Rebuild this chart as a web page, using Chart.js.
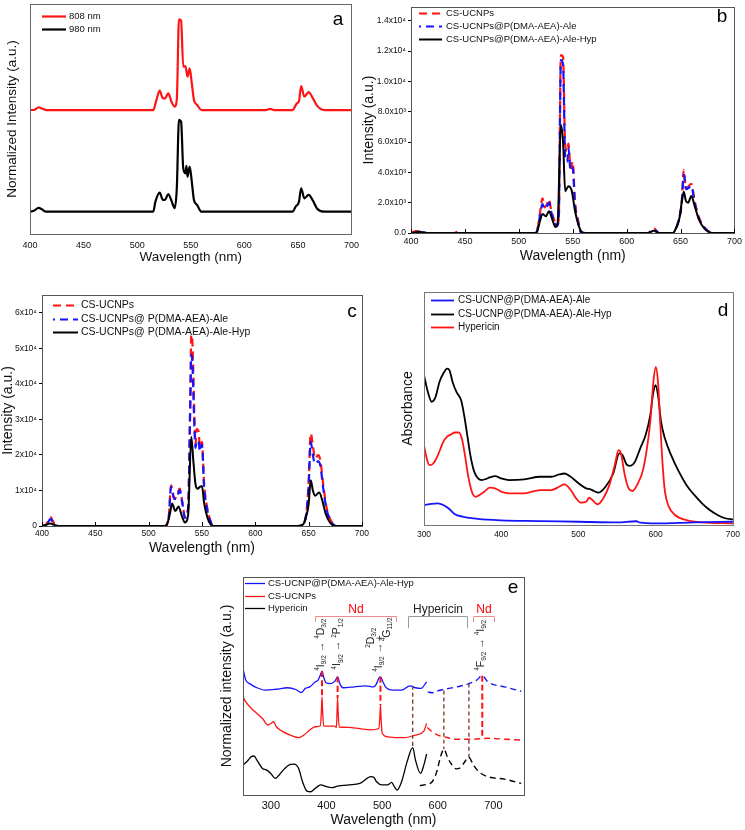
<!DOCTYPE html>
<html>
<head>
<meta charset="utf-8">
<title>UCNP spectra</title>
<script src="https://cdn.jsdelivr.net/npm/chart.js@4.4.1/dist/chart.umd.min.js"></script>
<style>
  html, body { margin: 0; padding: 0; background: #fff; }
  body { position: relative; width: 745px; height: 830px; overflow: hidden; }
  canvas { position: absolute; }
</style>
</head>
<body>
<canvas id="chartA" width="365" height="272" style="left:0;top:0"></canvas>
<canvas id="chartB" width="387" height="272" style="left:358px;top:0"></canvas>
<canvas id="chartC" width="372" height="285" style="left:0;top:275px"></canvas>
<canvas id="chartD" width="365" height="272" style="left:380px;top:275px"></canvas>
<canvas id="chartE" width="350" height="270" style="left:190px;top:560px"></canvas>
<script>
// panel a - normalized emission under 808 / 980 nm excitation
const aSeries = ['808 nm', '980 nm'];
const a808Wl = [400,404,408,411,415,515,518,521,524,526,529,532,535,537,539,541,543,545,547,549,551,553,556,560,620,624,628,645,649,651,653,656,660,664,668,675,700];
const a808Int = [53.9,54.0,55.1,54.6,53.9,53.9,58.3,62.3,59.0,59.0,61.2,57.5,55.4,58.5,93.3,92.8,72.8,73.0,68.4,72.0,65.5,58.3,56.1,53.9,53.9,54.4,53.9,53.9,56.8,57.8,64.3,59.7,61.7,59.0,55.7,53.9,53.9];
const a980Wl = [400,404,408,411,415,515,517,521,524,526,529,532,535,537,539,541,543,545,546,547,549,551,553,556,560,645,648,651,653,656,660,664,668,675,700];
const a980Int = [9.7,10.2,11.4,10.8,9.7,9.7,14.0,18.0,14.8,14.8,17.4,14.5,11.2,20.0,49.6,48.8,28.6,26.4,29.6,24.9,29.3,22.7,14.8,12.6,9.7,9.7,12.0,14.0,19.9,15.5,17.0,14.5,11.0,9.7,9.7];
const aXTicks = [400,450,500,550,600,650,700];

// panel b - emission intensity (808 nm)
const bSeries = ['CS-UCNPs', 'CS-UCNPs@P(DMA-AEA)-Ale', 'CS-UCNPs@P(DMA-AEA)-Ale-Hyp'];
const bRedWl = [400,405,410,415,440,443,446,515,517,519,522,524,526,528,530,533,535,537,539,541,543,545,546,548,550,552,555,558,620,625,630,643,645,648,651,653,655,657,660,663,667,672,680,700];
const bRedInt = [0,130,60,0,0,80,0,0,150,1000,2290,1685,1900,2225,1500,820,500,900,11730,11620,5790,5400,5900,4280,4710,2100,820,0,0,320,0,0,200,800,2000,4170,2980,3050,3240,2120,1040,390,0,0];
const bBlueWl = [400,405,410,415,515,517,519,522,524,526,528,530,533,535,537,539,541,543,545,546,548,550,552,555,558,620,625,630,643,645,648,651,653,655,657,660,663,667,672,680,700];
const bBlueInt = [0,100,50,0,0,150,900,1900,1600,1750,2000,1400,750,450,850,11400,11100,5000,4700,5600,4100,4300,1900,700,0,0,250,0,0,200,750,1900,3850,2900,2950,3100,2000,950,350,0,0];
const bBlackWl = [400,405,408,411,415,515,517,520,522,525,528,531,534,536,539,541,543,546,549,552,555,558,562,620,625,630,643,645,649,651,653,655,657,660,663,667,672,680,700];
const bBlackInt = [0,50,80,40,0,0,100,900,1250,1100,1430,900,390,700,7130,6000,2760,3090,2800,1500,600,100,0,0,150,0,0,200,1000,2000,2720,2100,2000,2440,1800,900,300,0,0];
const bXTicks = [400,450,500,550,600,650,700];
const bYTicks = [0,2000,4000,6000,8000,10000,12000,14000];
const bYLabels = ['0.0','2.0x10³','4.0x10³','6.0x10³','8.0x10³','1.0x10⁴','1.2x10⁴','1.4x10⁴'];

// panel c - emission intensity (980 nm)
const cSeries = ['CS-UCNPs', 'CS-UCNPs@ P(DMA-AEA)-Ale', 'CS-UCNPs@ P(DMA-AEA)-Ale-Hyp'];
const cRedWl = [400,404,406,408,410,412,415,515,517,519,521,524,526,529,532,534,537,539,540,541,543,544,545,547,548,550,552,555,558,561,640,645,648,650,652,654,656,659,661,664,667,671,676,700];
const cRedInt = [0,500,1500,2540,1500,500,0,0,500,3000,11470,7900,8000,10530,6000,2500,5000,35000,53800,52000,30000,23000,27270,26500,22000,23700,12000,5000,1500,0,0,500,4000,12000,26050,22760,19000,19940,18500,11000,5000,1500,0,0];
const cBlueWl = [400,404,406,408,410,412,415,515,517,519,521,524,526,529,532,534,537,539,540,541,543,544,545,547,548,550,552,555,558,561,640,645,648,650,652,654,656,659,661,664,667,671,676,700];
const cBlueInt = [0,400,1200,2000,1200,400,0,0,450,2800,11000,7600,7700,10000,5700,2300,4800,33000,48150,46000,27000,22000,24000,23500,21000,23000,11000,4500,1300,0,0,450,3700,11000,23700,20000,17500,18200,17000,10000,4500,1300,0,0];
const cBlackWl = [400,404,406,408,410,412,415,515,517,520,522,525,528,531,534,537,540,542,544,546,548,550,552,555,558,561,640,645,648,650,652,654,656,660,663,666,670,675,700];
const cBlackInt = [0,300,600,700,500,200,0,0,300,3500,6300,4200,5500,3000,1000,3000,25100,18000,11660,10500,11000,11280,6500,2500,500,0,0,500,3000,6000,12880,10000,8500,9400,7000,3500,1000,0,0];
const cXTicks = [400,450,500,550,600,650,700];
const cYTicks = [0,10000,20000,30000,40000,50000,60000];
const cYLabels = ['0','1x10⁴','2x10⁴','3x10⁴','4x10⁴','5x10⁴','6x10⁴'];

// panel d - absorbance
const dSeries = ['CS-UCNP@P(DMA-AEA)-Ale', 'CS-UCNP@P(DMA-AEA)-Ale-Hyp', 'Hypericin'];
const dBlueWl = [300,310,318,325,332,340,350,370,400,450,500,550,575,580,600,650,700];
const dBlueAbs = [8.6,9.1,9.3,8.6,7.1,4.6,3.6,2.6,2.0,1.7,1.4,1.1,1.6,1.0,0.7,1.1,1.4];
const dBlackWl = [300,305,310,315,320,325,330,333,337,342,348,352,356,360,365,370,375,380,385,392,400,410,430,450,465,475,482,490,500,510,515,520,526,535,545,553,557,563,567,573,580,587,593,597,600,603,607,612,620,630,640,650,660,670,680,690,700];
const dBlackAbs = [64.3,57.1,52.9,55.0,61.4,65.0,67.1,66.4,61.4,57.1,53.6,47.1,38.6,30.0,22.9,20.0,19.3,19.7,20.4,21.0,20.0,19.3,19.6,20.7,20.7,21.7,22.1,20.7,17.9,15.7,15.4,14.6,13.9,16.4,22.1,30.7,30.0,25.7,25.4,27.1,32.9,38.6,47.1,57.1,60.0,55.7,44.3,37.1,30.0,22.9,17.1,12.9,9.3,6.4,4.3,2.9,2.4];
const dRedWl = [300,303,307,312,318,325,330,335,340,345,349,353,357,362,367,372,378,385,392,400,410,430,450,465,475,482,490,497,503,510,514,518,525,532,540,547,552,555,560,565,570,577,583,588,593,597,600,603,606,609,612,617,625,640,660,700];
const dRedAbs = [34.3,29.3,25.7,26.4,30.0,35.7,37.9,38.9,39.7,39.7,37.1,30.0,21.4,14.3,12.1,12.9,14.3,16.0,15.7,14.3,13.6,13.6,15.0,15.0,16.4,17.4,15.0,11.4,9.6,10.0,11.7,10.7,8.9,11.4,17.1,25.7,32.1,30.7,21.4,15.7,14.6,17.9,22.9,31.4,44.3,61.4,67.9,61.4,42.9,25.7,14.3,7.9,4.3,2.1,1.1,0.7];
const dXTicks = [300,400,500,600,700];

// panel e - normalized excitation / absorption
const eSeries = ['CS-UCNP@P(DMA-AEA)-Ale-Hyp', 'CS-UCNPs', 'Hypericin'];
const eBlueWl = [250,255,262,275,290,310,330,345,355,362,370,380,385,389,392,395,399,408,416,420,424,430,450,470,485,490,494,497,501,506,520,535,550,560,570,580];
const eBlueInt = [58.0,52.7,51.1,49.2,48.1,48.5,49.2,48.4,47.0,48.9,49.6,51.9,52.7,55.0,56.8,54.0,51.5,51.1,52.5,54.2,51.1,49.2,49.6,50.1,49.6,51.1,53.5,54.2,52.2,49.6,48.1,48.1,50.1,49.2,48.9,51.9];
const eBlueDashWl = [582,590,600,620,640,656,670,680,690,720,750];
const eBlueDashInt = [47.3,46.9,47.8,48.9,49.9,51.1,52.7,54.7,51.9,49.6,47.6];
const eRedWl = [250,255,265,275,285,295,300,305,310,320,335,350,360,370,380,389,391,392,393,395,415,418,419,420,421,423,440,460,480,494,496,497,498,500,510,540,560,575,580];
const eRedInt = [45.0,42.7,39.7,37.4,35.1,32.1,32.8,33.6,31.3,29.3,27.5,26.3,27.6,29.8,31.3,31.8,39.0,45.0,39.0,31.6,31.6,31.0,38.0,44.3,38.0,31.2,31.0,30.4,29.9,30.5,36.0,41.2,36.0,28.6,26.7,26.3,27.5,29.3,32.8];
const eRedDashWl = [581,590,600,615,630,660,690,720,750];
const eRedDashInt = [31.0,29.0,27.5,26.5,25.6,25.6,26.0,25.6,25.2];
const eBlackWl = [250,258,265,270,275,285,292,300,308,315,325,335,342,350,357,365,372,380,390,400,410,420,440,460,480,485,490,500,510,517,522,527,535,545,555,560,569,575,580];
const eBlackInt = [13.7,15.6,17.6,17.9,16.0,12.2,11.5,9.9,7.6,9.2,12.2,14.0,14.2,12.2,6.1,1.8,1.5,3.1,4.6,3.8,3.4,4.1,4.6,5.3,8.4,8.1,6.1,4.6,4.6,5.8,3.8,2.3,6.1,15.3,21.7,16.0,9.9,13.7,18.8];
const eBlackDashWl = [568,580,590,598,605,611,618,625,633,640,648,655,665,675,690,720,750];
const eBlackDashInt = [4.3,4.9,6.1,10.5,17.5,21.0,17.0,14.0,12.0,12.4,15.0,17.4,13.4,10.4,8.4,7.3,5.3];
// Nd and hypericin band connectors (wavelength, upper / lower curve value)
const eNdWl = [392, 420, 497, 680];
const eNdTop = [56.8, 54.2, 54.2, 54.7];
const eNdBottom = [45.0, 44.3, 41.2, 26.0];
const eHypWl = [555, 611, 656];
const eHypTop = [50.1, 47.9, 51.1];
const eHypBottom = [21.7, 21.0, 17.4];
const eBracketText = ['Nd', 'Hypericin', 'Nd'];
const eBracketFrom = [379, 546, 664];
const eBracketTo = [525, 653, 701];
const eTransText = [
  '^{4}I_{9/2} → ^{4}D_{3/2}',
  '^{4}I_{9/2} → ^{2}P_{1/2}',
  '^{4}I_{9/2} →',
  '^{2}D_{3/2}',
  '+',
  '^{4}G_{11/2}',
  '^{4}F_{9/2} → ^{4}I_{9/2}'
];
const eTransWl = [390, 420, 495, 481, 496, 509, 678];
const eXTicks = [300,400,500,600,700];

const FONT = '"Liberation Sans", Arial, sans-serif';

function pts(xs, ys) {
  return xs.map((x, i) => ({ x, y: ys[i] }));
}

function line(label, xs, ys, color, width, dash, key, order, offset) {
  return {
    label, data: pts(xs, ys),
    borderColor: color, backgroundColor: color,
    borderWidth: width, borderDash: dash || [], borderDashOffset: offset || 0,
    key: key, order: order || 0, pointRadius: 0, fill: false
  };
}

// box around the plot, plus small inward ticks on the x axis
const framePlugin = {
  id: 'frame',
  afterDatasetsDraw(chart, args, o) {
    const { ctx, chartArea: a } = chart;
    ctx.save();
    ctx.strokeStyle = o.color;
    ctx.lineWidth = 1;
    ctx.strokeRect(Math.round(a.left) + 0.5, Math.round(a.top) + 0.5,
      Math.round(a.right - a.left), Math.round(a.bottom - a.top));
    if (o.inTicks) {
      const x = chart.scales.x;
      ctx.strokeStyle = '#000';
      x.ticks.forEach(t => {
        const px = Math.round(x.getPixelForValue(t.value)) + 0.5;
        ctx.beginPath();
        ctx.moveTo(px, a.bottom);
        ctx.lineTo(px, a.bottom - 4);
        ctx.stroke();
      });
    }
    ctx.restore();
  }
};

// legend drawn inside the plot, and the panel letter
const keyPlugin = {
  id: 'key',
  afterDraw(chart, args, o) {
    const { ctx } = chart;
    ctx.save();
    ctx.font = `${o.size}px ${FONT}`;
    ctx.textBaseline = 'middle';
    ctx.textAlign = 'left';
    let i = 0;
    chart.data.datasets.forEach(ds => {
      if (!ds.key) return;
      const y = Math.round(o.y + i * o.gap) + 0.5;
      ctx.strokeStyle = ds.borderColor;
      ctx.lineWidth = ds.borderWidth;
      ctx.setLineDash(ds.borderDash);
      ctx.lineDashOffset = ds.borderDashOffset;
      ctx.beginPath();
      ctx.moveTo(o.x, y);
      ctx.lineTo(o.x + o.len, y);
      ctx.stroke();
      ctx.setLineDash([]);
      ctx.fillStyle = '#111';
      ctx.fillText(ds.label, o.x + o.len + o.pad, y);
      i++;
    });
    ctx.font = `19px ${FONT}`;
    ctx.textAlign = 'center';
    ctx.fillStyle = '#000';
    ctx.fillText(o.letter, o.lx, o.ly);
    ctx.restore();
  }
};

// rotated text with ^{sup} and _{sub} runs, reading bottom to top
function drawRuns(ctx, x, y, markup, size) {
  const re = /\^\{([^}]*)\}|_\{([^}]*)\}|([^^_]+)/g;
  ctx.save();
  ctx.translate(x, y);
  ctx.rotate(-Math.PI / 2);
  ctx.textBaseline = 'middle';
  ctx.textAlign = 'left';
  ctx.fillStyle = '#222';
  let cx = 0, m;
  while ((m = re.exec(markup))) {
    const sup = m[1] !== undefined, sub = m[2] !== undefined;
    const txt = sup ? m[1] : sub ? m[2] : m[3];
    ctx.font = `${sup || sub ? size * 0.62 : size}px ${FONT}`;
    const dy = sup ? -size * 0.36 : sub ? size * 0.3 : 0;
    ctx.fillText(txt, cx, dy);
    cx += ctx.measureText(txt).width;
  }
  ctx.restore();
}

const eNotesPlugin = {
  id: 'eNotes',
  afterDatasetsDraw(chart, args, o) {
    const { ctx, scales: { x, y } } = chart;
    ctx.save();
    eBracketText.forEach((t, i) => {
      const x0 = Math.round(x.getPixelForValue(eBracketFrom[i])) + 0.5;
      const x1 = Math.round(x.getPixelForValue(eBracketTo[i])) + 0.5;
      const yb = Math.round(y.getPixelForValue(o.bracketAt)) + 0.5;
      const yl = y.getPixelForValue(o.legTo[i]);
      ctx.strokeStyle = o.bracketColor[i];
      ctx.lineWidth = 1;
      ctx.beginPath();
      ctx.moveTo(x0, yl); ctx.lineTo(x0, yb); ctx.lineTo(x1, yb); ctx.lineTo(x1, yl);
      ctx.stroke();
      ctx.fillStyle = o.textColor[i];
      ctx.font = `12px ${FONT}`;
      ctx.textAlign = 'center';
      ctx.textBaseline = 'alphabetic';
      ctx.fillText(t, (x0 + x1) / 2, yb - 4);
    });
    eTransText.forEach((t, i) => {
      drawRuns(ctx, x.getPixelForValue(eTransWl[i]), y.getPixelForValue(o.transFrom[i]), t, 10.5);
    });
    ctx.restore();
  }
};

function build(id, datasets, o) {
  const yTicks = o.yTicks
    ? { font: { family: FONT, size: o.yTickSize }, color: '#111', padding: 2,
        callback: v => o.yLabels[o.yTicks.indexOf(v)] }
    : { display: false };
  const plugins = [framePlugin, keyPlugin];
  if (o.extra) plugins.push(o.extra);
  return new Chart(document.getElementById(id), {
    type: 'line',
    data: { datasets },
    options: {
      responsive: false,
      animation: false,
      events: [],
      layout: { padding: { left: 0, top: o.padTop, right: o.padRight, bottom: 0 } },
      elements: { point: { radius: 0 }, line: { cubicInterpolationMode: 'monotone' } },
      plugins: {
        legend: { display: false },
        tooltip: { enabled: false },
        frame: { color: o.frameColor, inTicks: !!o.inTicks },
        key: o.key,
        eNotes: o.notes || {}
      },
      scales: {
        x: {
          type: 'linear', min: o.xMin, max: o.xMax,
          afterFit: s => { s.height = o.xH; },
          afterBuildTicks: s => { s.ticks = o.xTicks.map(v => ({ value: v })); },
          ticks: { font: { family: FONT, size: o.xTickSize }, color: '#111', padding: o.xTickPad,
                   maxRotation: 0, autoSkip: false },
          grid: { display: false, drawTicks: false },
          border: { display: false },
          title: { display: !!o.xTitle, text: o.xTitle, color: '#111',
                   font: { family: FONT, size: o.titleSize }, padding: { top: 0, bottom: o.xTitlePad } }
        },
        y: {
          type: 'linear', min: o.yMin, max: o.yMax,
          afterFit: s => { s.width = o.yW; },
          afterBuildTicks: s => { if (o.yTicks) s.ticks = o.yTicks.map(v => ({ value: v })); },
          ticks: yTicks,
          grid: o.yTicks
            ? { display: true, drawOnChartArea: false, drawTicks: true, tickLength: 3, color: '#000' }
            : { display: false, drawTicks: false },
          border: { display: !!o.yTicks, color: '#000' },
          title: { display: true, text: o.yTitle, color: '#111',
                   font: { family: FONT, size: o.titleSize }, padding: { top: o.yTitlePad, bottom: 0 } }
        }
      }
    },
    plugins
  });
}

const RED = '#ff1414', BLUE = '#1414ff', BLACK = '#000';

build('chartA', [
  line(aSeries[0], a808Wl, a808Int, RED, 2.2, null, true, 1),
  line(aSeries[1], a980Wl, a980Int, BLACK, 2.2, null, true, 2)
], {
  padTop: 4, padRight: 13, yW: 30, xH: 38,
  xMin: 400, xMax: 700, xTicks: aXTicks, xTickSize: 9, xTickPad: 6,
  yMin: 0, yMax: 100,
  xTitle: 'Wavelength (nm)', xTitlePad: 7, yTitle: 'Normalized Intensity (a.u.)', yTitlePad: 4,
  titleSize: 13.5, frameColor: '#666',
  key: { x: 42, y: 16, gap: 13, len: 24, pad: 3, size: 9.5, letter: 'a', lx: 338, ly: 20 }
});

build('chartB', [
  line(bSeries[0], bRedWl, bRedInt, RED, 2.2, [8, 5], true, 3),
  line(bSeries[1], bBlueWl, bBlueInt, BLUE, 2.2, [8, 5], true, 2, 6),
  line(bSeries[2], bBlackWl, bBlackInt, BLACK, 2, null, true, 1)
], {
  padTop: 3, padRight: 10, yW: 53, xH: 39,
  xMin: 400, xMax: 700, xTicks: bXTicks, xTickSize: 9, xTickPad: 3,
  yMin: 0, yMax: 14900, yTicks: bYTicks, yLabels: bYLabels, yTickSize: 8.5,
  xTitle: 'Wavelength (nm)', xTitlePad: 7, yTitle: 'Intensity (a.u.)', yTitlePad: 3,
  titleSize: 14, frameColor: '#555', inTicks: true,
  key: { x: 61, y: 13, gap: 13, len: 23, pad: 4, size: 9.5, letter: 'b', lx: 364, ly: 17 }
});

build('chartC', [
  line(cSeries[0], cRedWl, cRedInt, RED, 2.2, [8, 5], true, 3),
  line(cSeries[1], cBlueWl, cBlueInt, BLUE, 2.2, [8, 5], true, 2, 6),
  line(cSeries[2], cBlackWl, cBlackInt, BLACK, 2, null, true, 1)
], {
  padTop: 20, padRight: 6, yW: 42, xH: 34,
  xMin: 400, xMax: 700, xTicks: cXTicks, xTickSize: 8.5, xTickPad: 3,
  yMin: 0, yMax: 65000, yTicks: cYTicks, yLabels: cYLabels, yTickSize: 8.5,
  xTitle: 'Wavelength (nm)', xTitlePad: 3, yTitle: 'Intensity (a.u.)', yTitlePad: 0,
  titleSize: 14, frameColor: '#555', inTicks: true,
  key: { x: 53, y: 30, gap: 13.5, len: 25, pad: 3, size: 10.5, letter: 'c', lx: 352, ly: 37 }
});

build('chartD', [
  line(dSeries[0], dBlueWl, dBlueAbs, BLUE, 1.8, null, true, 1),
  line(dSeries[1], dBlackWl, dBlackAbs, BLACK, 1.8, null, true, 3),
  line(dSeries[2], dRedWl, dRedAbs, RED, 1.8, null, true, 2)
], {
  padTop: 17, padRight: 8, yW: 44, xH: 22,
  xMin: 300, xMax: 700, xTicks: dXTicks, xTickSize: 8.5, xTickPad: 5,
  yMin: 0, yMax: 100,
  yTitle: 'Absorbance', yTitlePad: 20,
  titleSize: 14, frameColor: '#777',
  key: { x: 51, y: 25, gap: 13.5, len: 23, pad: 4, size: 10, letter: 'd', lx: 343, ly: 36 }
});

const eLines = [
  line(eSeries[0], eBlueWl, eBlueInt, BLUE, 1.3, null, true, 1),
  line(eSeries[1], eRedWl, eRedInt, RED, 1.3, null, true, 2),
  line(eSeries[2], eBlackWl, eBlackInt, BLACK, 1.3, null, true, 3),
  line(eSeries[0], eBlueDashWl, eBlueDashInt, BLUE, 1.4, [6, 4], false, 1),
  line(eSeries[1], eRedDashWl, eRedDashInt, RED, 1.4, [6, 4], false, 2),
  line(eSeries[2], eBlackDashWl, eBlackDashInt, BLACK, 1.4, [6, 4], false, 3)
];
eNdWl.forEach((w, i) => {
  eLines.push(line('Nd', [w, w], [eNdTop[i], eNdBottom[i]], RED, 2, [6, 3], false, 0));
});
eHypWl.forEach((w, i) => {
  eLines.push(line('Hypericin', [w, w], [eHypTop[i], eHypBottom[i]], '#7d3524', 1.3, [4, 3], false, 0));
});

build('chartE', eLines, {
  padTop: 17, padRight: 16, yW: 53, xH: 35,
  xMin: 250, xMax: 755, xTicks: eXTicks, xTickSize: 11, xTickPad: 4,
  yMin: 0, yMax: 100,
  xTitle: 'Wavelength (nm)', xTitlePad: 1, yTitle: 'Normalized intensity (a.u.)', yTitlePad: 29,
  titleSize: 14, frameColor: '#555',
  key: { x: 55, y: 23, gap: 12.5, len: 20, pad: 3, size: 9.5, letter: 'e', lx: 323, ly: 28 },
  extra: eNotesPlugin,
  notes: {
    bracketAt: 82, legTo: [79.4, 76.5, 79.4],
    bracketColor: ['#f08a8a', '#999', '#f08a8a'], textColor: ['#ff0000', '#222', '#ff0000'],
    transFrom: [57, 57.5, 56.5, 67.5, 70.5, 70.5, 57]
  }
});
</script>
</body>
</html>
